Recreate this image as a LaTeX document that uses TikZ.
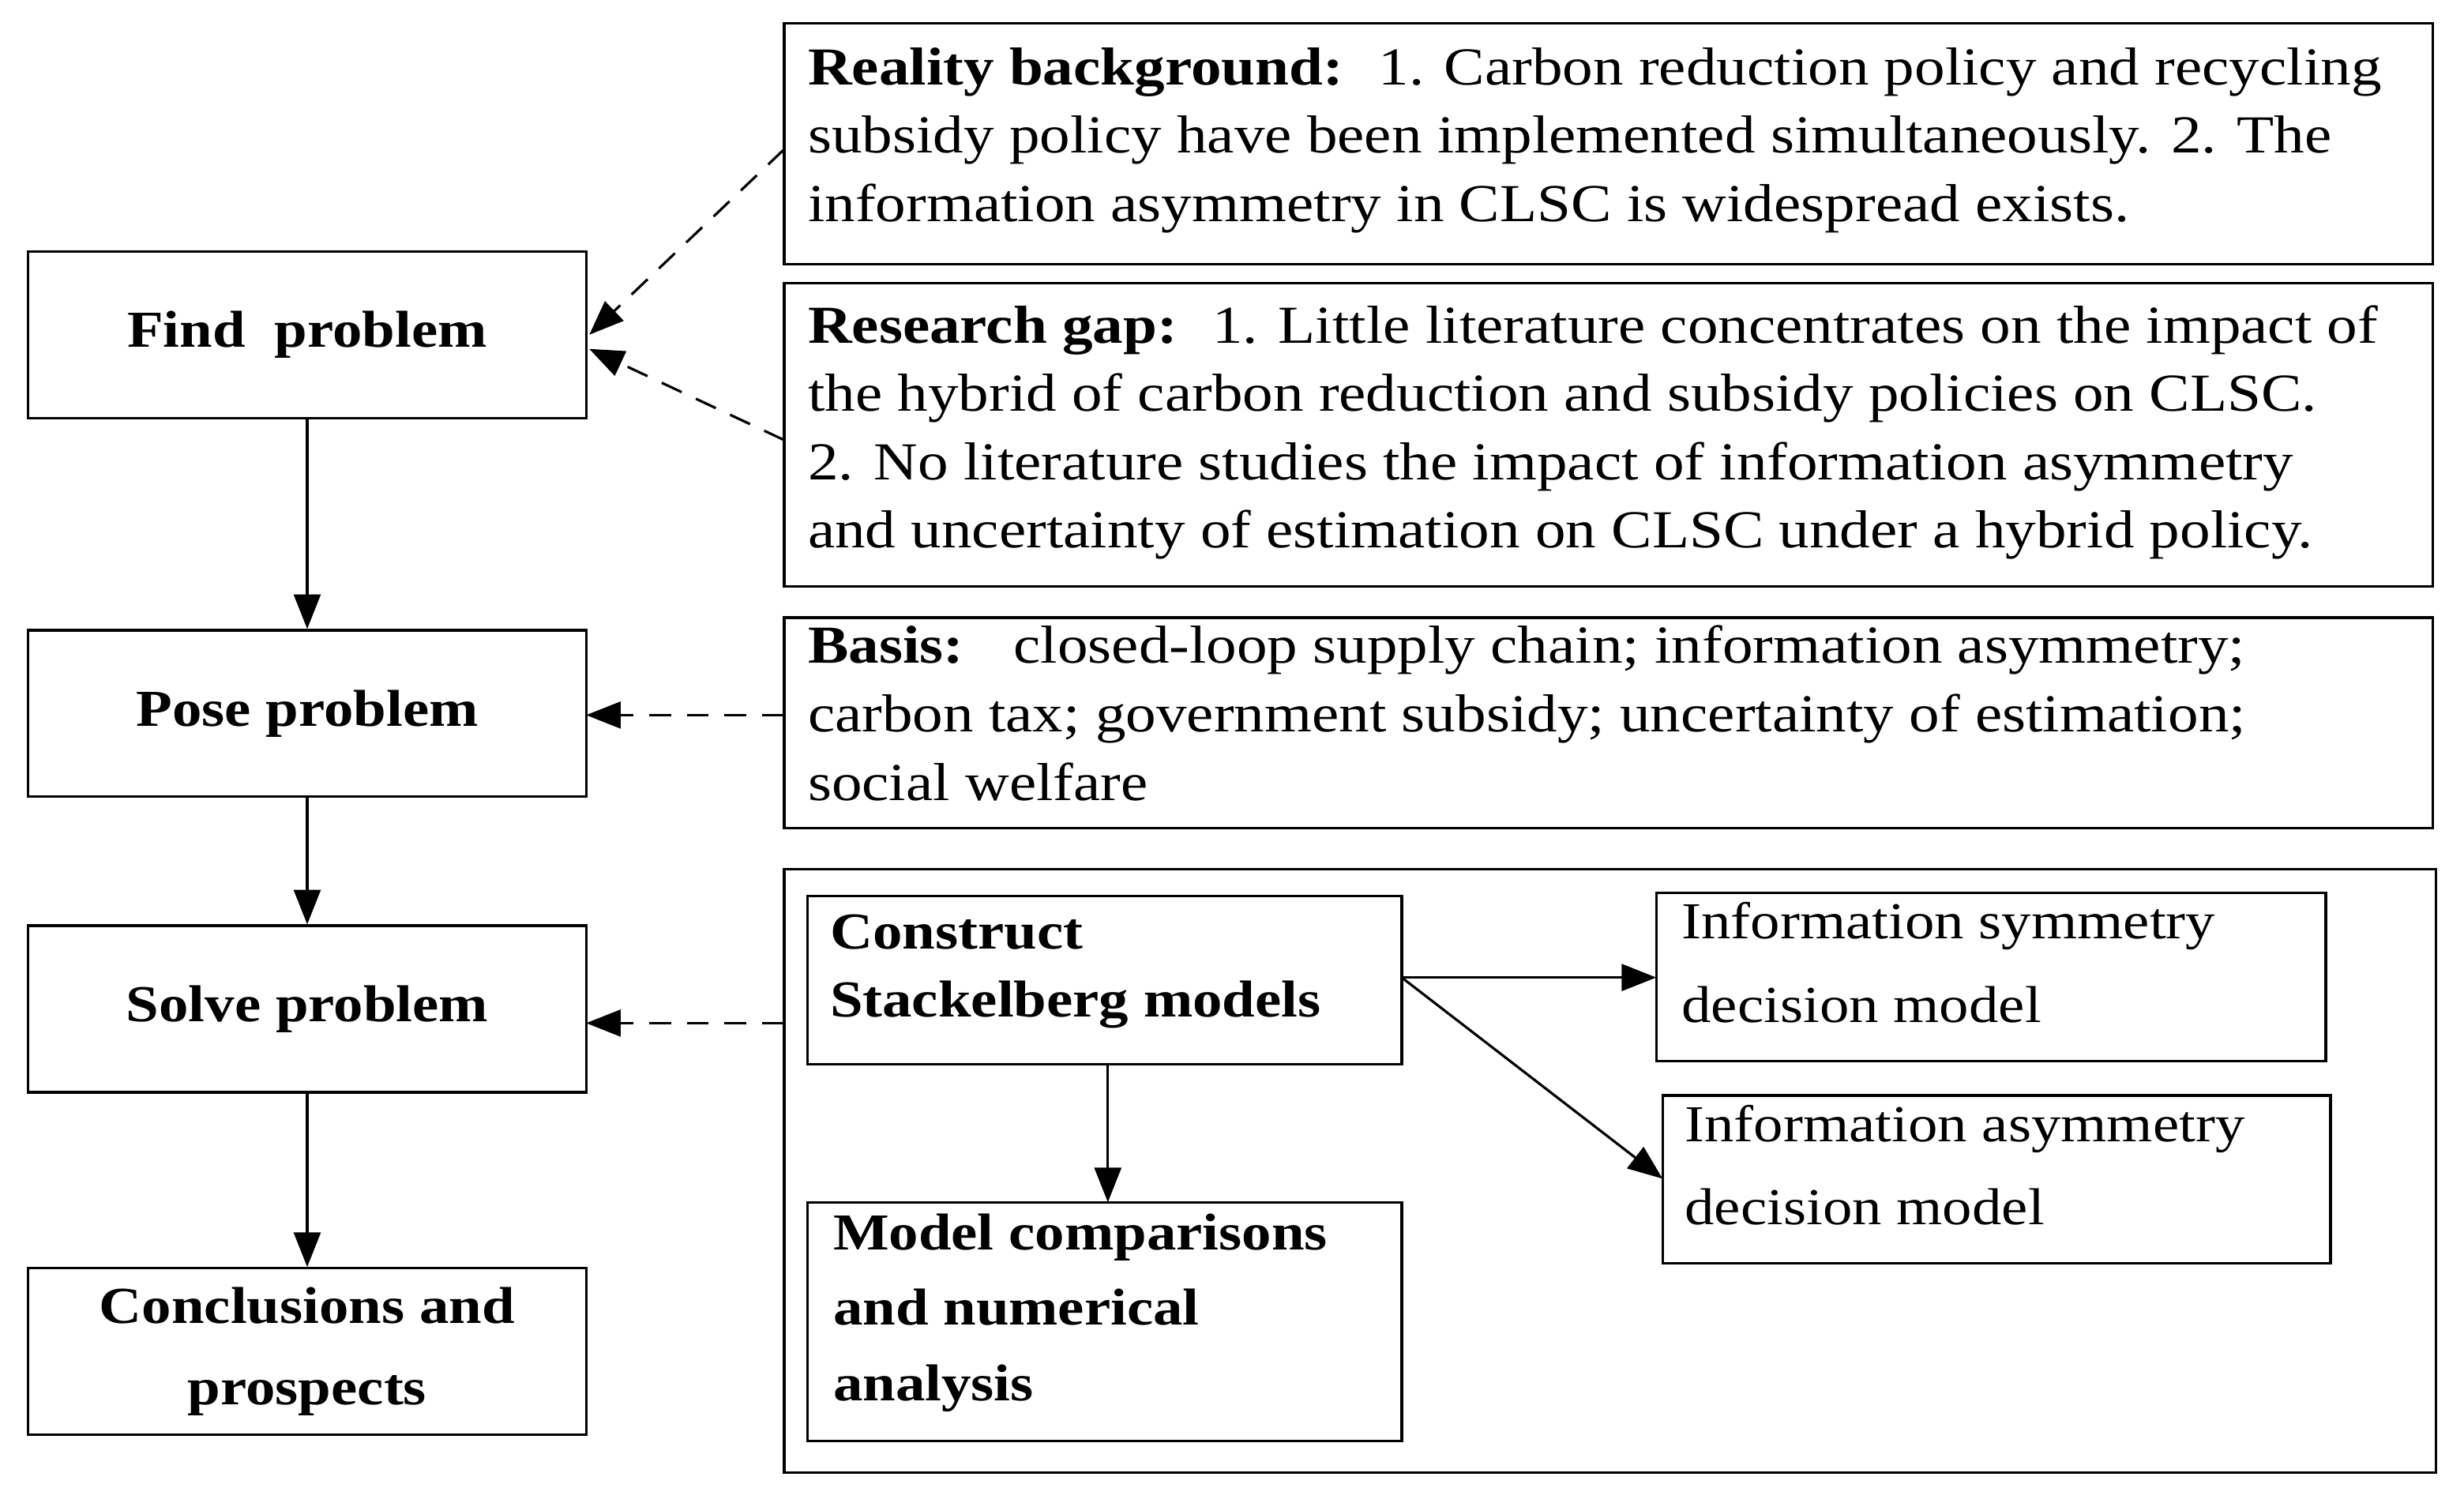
\documentclass[tikz,border=0pt]{standalone}
\usepackage{fontspec}
\setmainfont[FakeStretch=1.14]{Liberation Serif}
\usetikzlibrary{arrows.meta}
\begin{document}
\begin{tikzpicture}[x=1pt,y=-1pt,
 box/.style={draw,line width=1.6pt,inner sep=0pt},
 txt/.style={anchor=north west,align=left,font=\fontsize{34}{43.5}\selectfont,inner sep=0pt},
 ltxt/.style={align=center,font=\fontsize{33}{52}\selectfont\bfseries,inner sep=0pt},
 arr/.style={-{Triangle[length=22pt,width=17pt]},line width=1.6pt},
 darr/.style={arr,dash pattern=on 14pt off 10pt}]
\useasboundingbox (0,0) rectangle (1568,956);
% left column
\node[box,minimum width=355pt,minimum height=106pt] (find) at (195.5,213) {};
\node[ltxt] at (find) {Find\; problem};
\node[box,minimum width=355pt,minimum height=106pt] (pose) at (195.5,454) {};
\node[ltxt] at (pose) {Pose problem};
\node[box,minimum width=355pt,minimum height=106pt] (solve) at (195.5,642) {};
\node[ltxt] at (solve) {Solve problem};
\node[box,minimum width=355pt,minimum height=106pt] (concl) at (195.5,860) {};
\node[ltxt] at (concl) {Conclusions and\\prospects};
\draw[arr] (find) -- (pose);
\draw[arr] (pose) -- (solve);
\draw[arr] (solve) -- (concl);
% right boxes
\draw[line width=1.6pt] (499,15) rectangle (1548,168);
\node[txt] at (514,30) {\textbf{Reality background:}\; 1. Carbon reduction policy and recycling\\subsidy policy have been implemented simultaneously. 2. The\\information asymmetry in CLSC is widespread exists.};
\draw[line width=1.6pt] (499,180) rectangle (1548,373);
\node[txt] at (514,194) {\textbf{Research gap:}\; 1. Little literature concentrates on the impact of\\the hybrid of carbon reduction and subsidy policies on CLSC.\\2. No literature studies the impact of information asymmetry\\and uncertainty of estimation on CLSC under a hybrid policy.};
\draw[line width=1.6pt] (499,393) rectangle (1548,527);
\node[txt] at (514,398) {\textbf{Basis:}\;\; closed-loop supply chain; information asymmetry;\\carbon tax; government subsidy; uncertainty of estimation;\\social welfare};
\draw[line width=1.6pt] (499,553) rectangle (1550,937);
\coordinate (rb) at (499,95);
\coordinate (gb) at (499,280);
\coordinate (bb) at (499,455);
\coordinate (sb) at (499,651);
\draw[darr] (rb) -- (375,213);
\draw[darr] (gb) -- (375,222);
\draw[darr] (bb) -- (373,455);
\draw[darr] (sb) -- (373,651);
% inner boxes
\draw[line width=1.6pt] (514,570) rectangle (892,677);
\node[anchor=north west,align=left,inner sep=0pt,font=\fontsize{33}{43}\selectfont\bfseries] at (528,582) {Construct\\Stackelberg models};
\coordinate (c1) at (892,622);
\coordinate (c2) at (705,677);
\draw[line width=1.6pt] (514,765) rectangle (892,917);
\node[anchor=north west,align=left,inner sep=0pt,font=\fontsize{33}{48}\selectfont\bfseries] at (530,772) {Model comparisons\\and numerical\\analysis};
\draw[line width=1.6pt] (1054,568) rectangle (1480,675);
\node[anchor=north west,align=left,inner sep=0pt,font=\fontsize{33}{53}\selectfont] at (1070,574) {Information symmetry\\decision model};
\draw[line width=1.6pt] (1058,697) rectangle (1483,804);
\node[anchor=north west,align=left,inner sep=0pt,font=\fontsize{33}{53}\selectfont] at (1072,703) {Information asymmetry\\decision model};
\draw[arr] (c1) -- (1054,622);
\draw[arr] (c1) -- (1058,750);
\draw[arr] (c2) -- (705,765);
\end{tikzpicture}
\end{document}
